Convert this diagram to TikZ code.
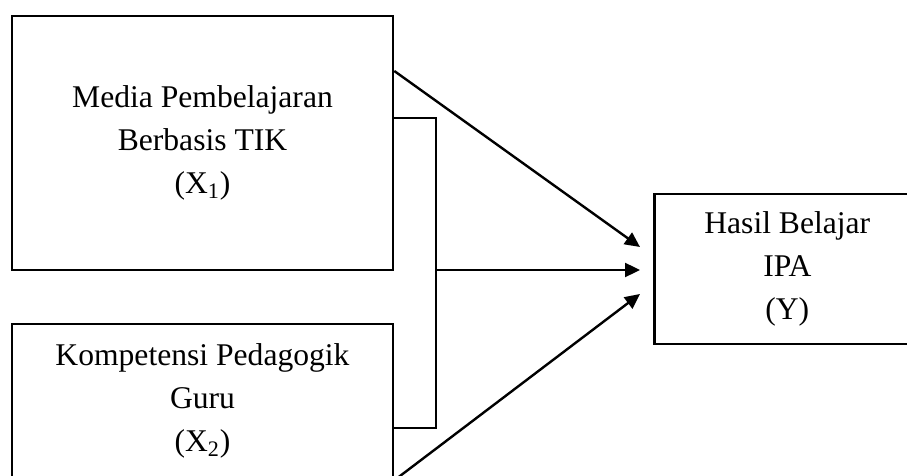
\documentclass[tikz,border=0pt]{standalone}
\usepackage{fontspec}
\setmainfont{Liberation Serif}
\usetikzlibrary{positioning,arrows.meta}

\begin{document}
\begin{tikzpicture}[
    x=0.5pt, y=-0.5pt,
    >={Triangle[length=7.5pt,width=7pt]},
    txt/.style={
        align=center,
        inner sep=0pt,
        font=\fontsize{15.8}{21.5}\selectfont
    },
    box/.style={
        txt,
        rectangle,
        draw,
        line width=1.3pt
    },
    link/.style={line width=1.2pt}
]
\useasboundingbox (0,0) rectangle (907,476);

\node[box, minimum width=190.5pt, minimum height=127pt] (X1) at (202.5,143) {
Media Pembelajaran\\
Berbasis TIK\\
(X\textsubscript{1})
};

\node[box, minimum width=190.5pt, minimum height=77pt] (X2) at (202.5,401) {
Kompetensi Pedagogik\\
Guru\\
(X\textsubscript{2})
};

% right side of this box runs off the page
\node[box, minimum width=160pt, minimum height=75pt, anchor=west,
      label={[txt, xshift=-13.5pt]center:Hasil Belajar\\IPA\\(Y)}] (Y) at (653,269) {};

% joint of X1 and X2
\coordinate (jtop) at (436,118);
\coordinate (jbot) at (436,428);
\coordinate (jmid) at (436,270);

\draw[line width=1pt] (X1.east |- jtop) -- (jtop) -- (jbot) -- (X2.east |- jbot);

\draw[link,->] (X1.east |- 0,71) -- ([shift={(-13,-22)}]Y.west);
\draw[link,->] (jmid) -- ([xshift=-6.5pt]Y.west |- jmid);
\draw[link,->] ([shift={(4,-2)}]X2.south east) -- ([shift={(-13,25)}]Y.west);

\end{tikzpicture}
\end{document}
